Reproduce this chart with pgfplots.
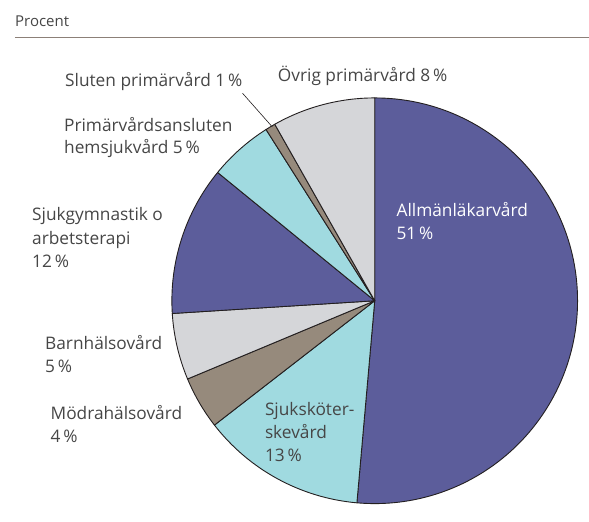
\documentclass[border=0pt]{standalone}
\usepackage{pgfplots}
\pgfplotsset{compat=1.18}
\usepackage{fontspec}
\setmainfont{Open Sans}

\definecolor{pblue}{RGB}{92,93,155}
\definecolor{pcyan}{RGB}{160,218,224}
\definecolor{ptaupe}{RGB}{150,138,124}
\definecolor{pgray}{RGB}{213,214,217}
\definecolor{pline}{RGB}{35,31,32}
\definecolor{ptext}{RGB}{70,70,70}
\definecolor{prule}{RGB}{140,128,120}

\pgfdeclareplotmark{blank}{}

% share = slice in percent, cum = percent before the slice (clockwise from 12 o'clock)
% col: 0 blue, 1 cyan, 2 taupe, 3 gray
\pgfplotstableread{
x   y   share cum  col
375 301 51.4  0.0  0
375 301 13.1  51.4 1
375 301 4.2   64.5 2
375 301 5.3   68.7 3
375 301 11.9  74.0 0
375 301 5.1   85.9 1
375 301 0.8   91.0 2
375 301 8.2   91.8 3
}\piedata

\begin{document}
\begin{tikzpicture}[every node/.style={font=\fontsize{17.3}{23}\selectfont, text=ptext, inner sep=0pt}]
\begin{axis}[
  scale only axis, width=589pt, height=522pt,
  xmin=0, xmax=589, ymin=0, ymax=522, y dir=reverse,
  hide axis, clip=false, set layers,
]
\path (rel axis cs:0,0) rectangle (rel axis cs:1,1);

\addplot[scatter, only marks, mark=blank,
  visualization depends on={\thisrow{share} \as \share},
  visualization depends on={\thisrow{cum} \as \cum},
  visualization depends on={\thisrow{col} \as \ci},
  scatter/@pre marker code/.code={%
    \pgfmathsetmacro\aa{90-3.6*\cum}%
    \pgfmathsetmacro\ab{90-3.6*(\cum+\share)}%
    \pgfmathtruncatemacro\cidx{\ci}%
    \pgfpathmoveto{\pgfpointorigin}%
    \pgfpathlineto{\pgfpointpolar{\aa}{203pt}}%
    \pgfpatharc{\aa}{\ab}{203pt}%
    \pgfpathclose
    \ifcase\cidx\relax \pgfsetfillcolor{pblue}\or \pgfsetfillcolor{pcyan}\or \pgfsetfillcolor{ptaupe}\else \pgfsetfillcolor{pgray}\fi
    \pgfsetstrokecolor{pline}%
    \pgfsetlinewidth{0.9pt}%
    \pgfsetroundjoin
    \pgfusepath{fill,stroke}%
  },
  scatter/@post marker code/.code={},
] table[x=x, y=y] {\piedata};

\begin{pgfonlayer}{axis foreground}
% header
\node[anchor=base west, font=\fontsize{15}{18}\selectfont] at (15,26.7) {Procent};
\draw[prule, line width=0.9pt] (15,37.5) -- (589,37.5);

% leader line for the thin slice
\draw[pline, line width=0.6pt] (242.7,93.3) -- (272.5,127);

% labels
\node[anchor=base west] at (65,86.5) {Sluten primärvård 1\,\%};
\node[anchor=base west] at (278,81.7) {Övrig primärvård 8\,\%};
\node[anchor=base west] at (64,131.7) {Primärvårdsansluten};
\node[anchor=base west] at (64,154) {hemsjukvård 5\,\%};
\node[anchor=base west] at (32,221) {Sjukgymnastik o};
\node[anchor=base west] at (32,244.5) {arbetsterapi};
\node[anchor=base west] at (32,268) {12\,\%};
\node[anchor=base west] at (45,349.3) {Barnhälsovård};
\node[anchor=base west] at (45,372.7) {5\,\%};
\node[anchor=base west] at (50.5,420) {Mödrahälsovård};
\node[anchor=base west] at (50.5,442.7) {4\,\%};
\node[anchor=base west] at (265,415.7) {Sjuksköter-};
\node[anchor=base west] at (265,439) {skevård};
\node[anchor=base west] at (265,462.3) {13\,\%};
\node[anchor=base west, text=white] at (396.7,216.7) {Allmänläkarvård};
\node[anchor=base west, text=white] at (396.7,240) {51\,\%};
\end{pgfonlayer}
\end{axis}
\end{tikzpicture}
\end{document}
